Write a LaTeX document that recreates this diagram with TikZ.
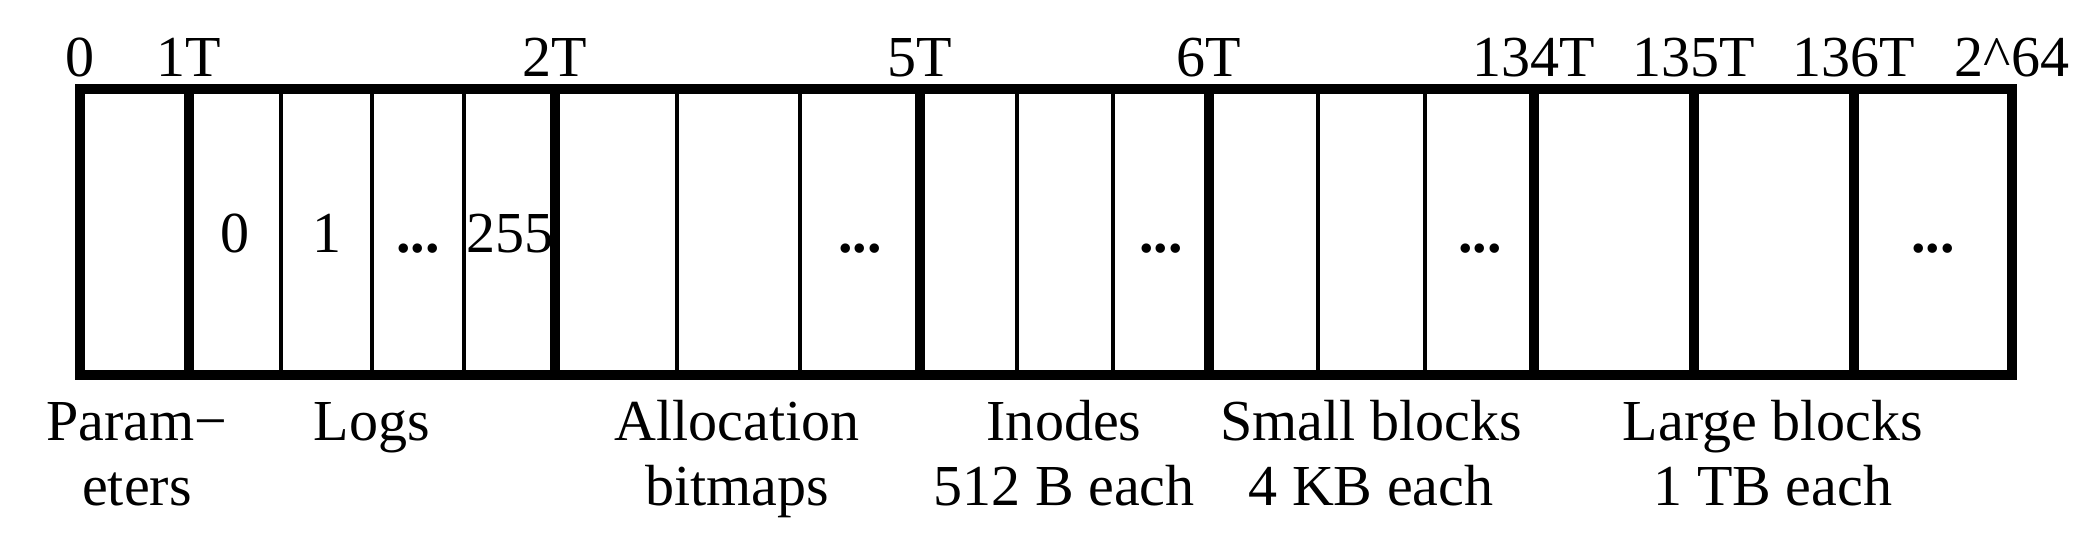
\documentclass[tikz,border=0pt]{standalone}
\usepackage{fontspec}
\setmainfont{Liberation Serif}
\usepackage{tikz}
\def\ytop{89}
\def\ybot{375}
\def\ymid{253}
\def\ylow{505}

\begin{document}
\begin{tikzpicture}[x=0.01cm, y=-0.01cm, font=\fontsize{16.5}{18.4}\selectfont,
        thick sep/.style={line width=3.1pt},
        thin sep/.style={line width=1.4pt},
        part/.style={anchor=base, align=center}]
            \useasboundingbox (0,0) rectangle (2098,540);

            \foreach \x in {281,372,464,677,800,1017,1113,1318,1425}
                \draw[thin sep] (\x,\ytop) -- (\x,\ybot);
            \foreach \x in {189,555,920,1209,1534,1694,1854}
                \draw[thick sep] (\x,\ytop) -- (\x,\ybot);
            \draw[thick sep] (80,\ytop) rectangle (2012,\ybot);

            \foreach \x/\t [count=\i] in {80/0, 189/1T, 555/2T, 920/5T, 1209/6T, 1534/134T, 1694/135T, 1854/136T, 2012/2\textasciicircum64}
                \node[anchor=base] (addr\i) at (\x,77) {\t};

            \node[anchor=base] (log0) at (235,\ymid) {0};
            \node[anchor=base] (log1) at (327,\ymid) {1};
            \node[anchor=base] (logdots) at (418,\ymid) {\textbf{...}};
            \node[anchor=base] (log255) at (510,\ymid) {255};
            \node[anchor=base] (bmdots) at (860,\ymid) {\textbf{...}};
            \node[anchor=base] (inodots) at (1161,\ymid) {\textbf{...}};
            \node[anchor=base] (smalldots) at (1480,\ymid) {\textbf{...}};
            \node[anchor=base] (largedots) at (1933,\ymid) {\textbf{...}};

            \node[part] (params) at (137,\ylow) {Param−\\eters};
            \node[part] (logs) at (372,440) {Logs};
            \node[part] (bitmaps) at (737,\ylow) {Allocation\\bitmaps};
            \node[part] (inodes) at (1064,\ylow) {Inodes\\512 B each};
            \node[part] (small) at (1371,\ylow) {Small blocks\\4 KB each};
            \node[part] (large) at (1773,\ylow) {Large blocks\\1 TB each};
        \end{tikzpicture}
\end{document}
